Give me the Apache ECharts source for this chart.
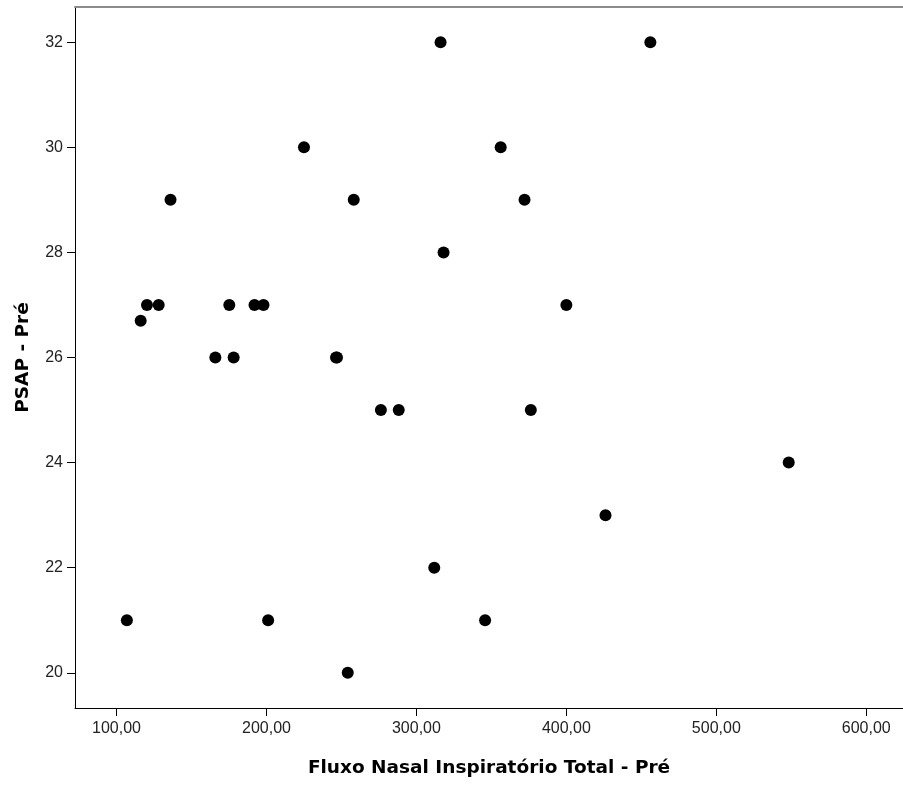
<!DOCTYPE html>
<html>
<head>
<meta charset="utf-8">
<script src="https://cdn.jsdelivr.net/npm/echarts@6/dist/echarts.min.js"></script>
<style>
  html, body { margin: 0; padding: 0; background: #fff; }
  #scatterPre { width: 903px; height: 785px; }
</style>
</head>
<body>
<div id="scatterPre"></div>
<script>
// Fluxo Nasal Inspiratório Total - Pré (x) vs PSAP - Pré (y)
const fluxoPre = [106.9, 116.1, 120.3, 128.1, 136.0, 165.9, 175.2, 178.1, 192.0, 198.0,
  201.1, 225.0, 246.4, 247.0, 254.2, 258.2, 276.3, 288.2, 311.9, 316.1,
  318.1, 345.8, 356.2, 372.1, 376.3, 400.0, 426.1, 456.0, 548.3]
const psapPre = [21, 26.7, 27, 27, 29, 26, 27, 26, 27, 27,
  21, 30, 26, 26, 20, 29, 25, 25, 22, 32,
  28, 21, 30, 29, 25, 27, 23, 32, 24]
const xTicks = [100, 200, 300, 400, 500, 600]
const yTicks = [20, 22, 24, 26, 28, 30, 32]

const points = fluxoPre.map((v, i) => [v, psapPre[i]])

const chart = echarts.init(document.getElementById('scatterPre'))
const axisLine = { show: true, lineStyle: { color: '#000', width: 1 } }
const axisTick = { show: true, length: 8, lineStyle: { color: '#000', width: 1 } }
const titleStyle = { fontFamily: 'DejaVu Sans', fontWeight: 'bold', fontSize: 18.5, color: '#000' }
const labelStyle = { fontFamily: 'Liberation Sans', fontSize: 16, color: '#222' }

const option = {
  backgroundColor: '#fff',
  animation: false,
  grid: { left: 75, top: 7, right: -4, bottom: 77 },
  xAxis: [
    {
      type: 'value',
      min: 72.3,
      max: 624.5,
      name: 'Fluxo Nasal Inspiratório Total - Pré',
      nameLocation: 'middle',
      nameGap: 51,
      nameTextStyle: titleStyle,
      axisLine: axisLine,
      axisTick: Object.assign({ customValues: xTicks }, axisTick),
      splitLine: { show: false },
      axisLabel: Object.assign({
        customValues: xTicks,
        margin: 13,
        formatter: v => v.toFixed(2).replace('.', ',')
      }, labelStyle)
    },
    {
      // gray frame line along the top
      type: 'value',
      position: 'top',
      min: 72.3,
      max: 624.5,
      axisLine: { show: true, lineStyle: { color: '#8c8c8c', width: 2 } },
      axisTick: { show: false },
      axisLabel: { show: false },
      splitLine: { show: false }
    }
  ],
  yAxis: {
    type: 'value',
    min: 19.33,
    max: 32.67,
    name: 'PSAP - Pré',
    nameLocation: 'middle',
    nameRotate: 90,
    nameGap: 42,
    nameTextStyle: titleStyle,
    axisLine: axisLine,
    axisTick: Object.assign({ customValues: yTicks }, axisTick),
    splitLine: { show: false },
    axisLabel: Object.assign({
      customValues: yTicks,
      margin: 12
    }, labelStyle)
  },
  series: [
    {
      type: 'scatter',
      symbol: 'circle',
      symbolSize: 12,
      itemStyle: { color: '#000', opacity: 1 },
      data: points
    }
  ]
}
chart.setOption(option)
</script>
</body>
</html>
